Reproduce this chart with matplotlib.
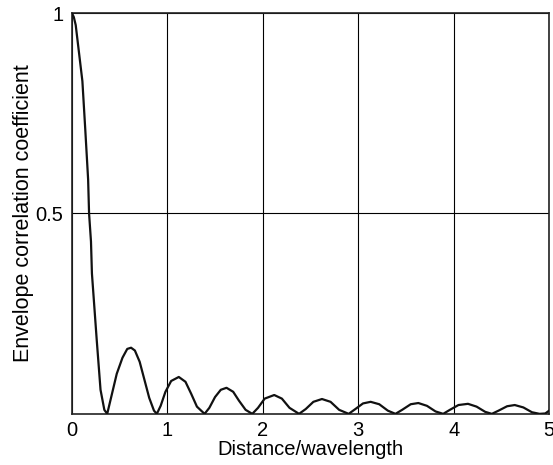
import matplotlib
matplotlib.use('Agg')
import matplotlib.pyplot as plt

plt.rcParams['font.family'] = ['Liberation Sans', 'DejaVu Sans']

# curve (distance/wavelength, envelope correlation)
dist = [0, 0.02, 0.04, 0.11, 0.14, 0.17, 0.18, 0.20, 0.21, 0.26, 0.30, 0.34, 0.37,
        0.42, 0.47, 0.53, 0.58, 0.62, 0.66, 0.71, 0.76, 0.81, 0.86, 0.89,
        0.93, 0.98, 1.04, 1.12, 1.19, 1.25, 1.31, 1.39,
        1.44, 1.50, 1.56, 1.62, 1.69, 1.75, 1.82, 1.89,
        1.95, 2.02, 2.12, 2.20, 2.28, 2.38,
        2.45, 2.53, 2.62, 2.71, 2.80, 2.90,
        2.97, 3.05, 3.13, 3.22, 3.31, 3.39,
        3.46, 3.55, 3.63, 3.72, 3.81, 3.89,
        3.96, 4.05, 4.15, 4.24, 4.33, 4.40,
        4.47, 4.56, 4.64, 4.73, 4.82, 4.90, 4.96, 5.0]
corr = [1.0, 0.99, 0.97, 0.83, 0.71, 0.585, 0.5, 0.43, 0.35, 0.185, 0.06, 0.01, 0.0,
        0.05, 0.10, 0.14, 0.162, 0.165, 0.158, 0.13, 0.085, 0.04, 0.008, 0.0,
        0.02, 0.055, 0.082, 0.092, 0.08, 0.05, 0.018, 0.0,
        0.015, 0.042, 0.06, 0.065, 0.055, 0.033, 0.01, 0.0,
        0.015, 0.038, 0.047, 0.038, 0.015, 0.0,
        0.012, 0.03, 0.037, 0.03, 0.01, 0.0,
        0.012, 0.026, 0.03, 0.024, 0.008, 0.0,
        0.01, 0.024, 0.027, 0.02, 0.006, 0.0,
        0.01, 0.022, 0.025, 0.018, 0.005, 0.0,
        0.008, 0.019, 0.022, 0.016, 0.004, 0.0, 0.001, 0.008]

xticks = [0, 1, 2, 3, 4, 5]
yticks = [0.5, 1]

fig = plt.figure(figsize=(5.53, 4.65), dpi=100)
ax = fig.add_axes([0.130, 0.110, 0.863, 0.862])

ax.plot(dist, corr, color='#111111', linewidth=1.6, zorder=3)

ax.set_xlim(0, 5)
ax.set_ylim(0, 1)
ax.set_xticks(xticks)
ax.set_xticklabels([str(t) for t in xticks])
ax.set_yticks(yticks)
ax.set_yticklabels(['0.5', '1'])
ax.tick_params(length=0, labelsize=14.5)
ax.tick_params(axis='y', pad=6)
ax.tick_params(axis='x', pad=5)
ax.grid(True, color='black', linewidth=0.8)
for s in ax.spines.values():
    s.set_linewidth(1.2)
    s.set_color('#222222')

ax.set_xlabel('Distance/wavelength', fontsize=14.5, labelpad=0)
ax.set_ylabel('Envelope correlation coefficient', fontsize=15.5, labelpad=1)

fig.savefig('out.png', dpi=100)
